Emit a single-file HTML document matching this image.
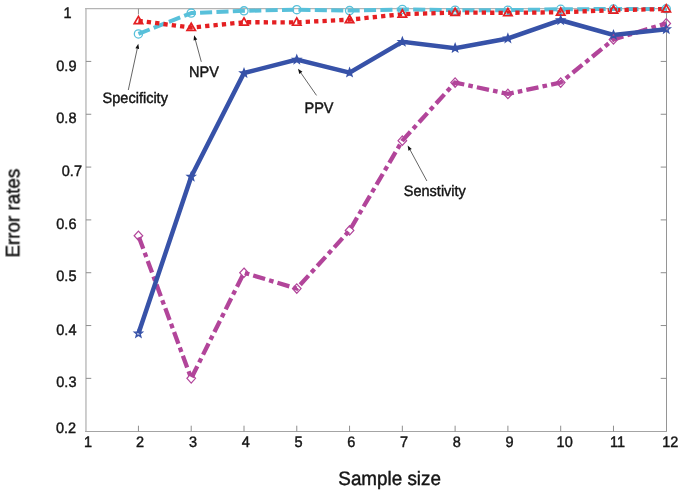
<!DOCTYPE html>
<html><head><meta charset="utf-8"><title>Error rates vs sample size</title>
<style>html,body{margin:0;padding:0;background:#fff}svg{display:block}text{font-family:"Liberation Sans",Arial,Helvetica,sans-serif;fill:#141414;stroke:#141414;stroke-width:0.42px}</style></head><body>
<svg width="685" height="492" viewBox="0 0 685 492">
<defs><filter id="tf" filterUnits="userSpaceOnUse" x="0" y="0" width="685" height="492"><feGaussianBlur stdDeviation="0.15"/></filter></defs>
<rect width="685" height="492" fill="#fff"/>
<g fill="none">
<path d="M85.95 8.10V432.00" stroke="#c6c6c6" stroke-width="1.7"/>
<path d="M85.15 8.70H667.00" stroke="#b4b4b4" stroke-width="1.3"/>
<path d="M666.50 8.70V432.00" stroke="#959595" stroke-width="1"/>
<path d="M85.15 431.50H667.00" stroke="#a4a4a4" stroke-width="1"/>
</g>
<g stroke="#8e8e8e" stroke-width="1" fill="none">
<path d="M138.43 431.50v-5.8"/>
<path d="M138.43 8.70v5.8"/>
<path d="M191.21 431.50v-5.8"/>
<path d="M244.00 431.50v-5.8"/>
<path d="M296.78 431.50v-5.8"/>
<path d="M349.56 431.50v-5.8"/>
<path d="M402.34 431.50v-5.8"/>
<path d="M455.12 431.50v-5.8"/>
<path d="M507.90 431.50v-5.8"/>
<path d="M560.69 431.50v-5.8"/>
<path d="M613.47 431.50v-5.8"/>
<path d="M85.95 378.37h5.3 M666.50 378.37h-5.8"/>
<path d="M85.95 325.55h5.3 M666.50 325.55h-5.8"/>
<path d="M85.95 272.72h5.3 M666.50 272.72h-5.8"/>
<path d="M85.95 219.90h5.3 M666.50 219.90h-5.8"/>
<path d="M85.95 167.08h5.3 M666.50 167.08h-5.8"/>
<path d="M85.95 114.25h5.3 M666.50 114.25h-5.8"/>
<path d="M85.95 61.42h5.3 M666.50 61.42h-5.8"/>
</g>
<polyline points="138.43,33.96 191.21,13.09 244.00,10.87 296.78,9.66 349.56,10.61 402.34,9.45 455.12,10.18 507.90,10.18 560.69,9.29 613.47,9.02 666.25,8.86" fill="none" stroke="#58c0da" stroke-width="4.0" stroke-dasharray="12.1 4.3" stroke-dashoffset="0" stroke-linejoin="round"/>
<polyline points="138.43,20.75 191.21,27.62 244.00,22.23 296.78,22.33 349.56,19.69 402.34,14.15 455.12,12.56 507.90,12.83 560.69,12.30 613.47,10.18 666.25,9.02" fill="none" stroke="#e41f22" stroke-width="4.3" stroke-dasharray="4.3 4.1" stroke-dashoffset="0" stroke-linejoin="round"/>
<polyline points="138.43,235.75 191.21,378.37 244.00,272.72 296.78,288.57 349.56,230.46 402.34,140.66 455.12,82.55 507.90,93.91 560.69,82.55 613.47,39.45 666.25,23.39" fill="none" stroke="#b2459a" stroke-width="4.3" stroke-dasharray="12.4 4.15 4.6 4.15" stroke-dashoffset="23.8" stroke-linejoin="miter"/>
<polyline points="138.43,333.47 191.21,176.69 244.00,73.05 296.78,59.68 349.56,72.62 402.34,41.83 455.12,48.11 507.90,38.45 560.69,20.22 613.47,35.01 666.25,29.20" fill="none" stroke="#3752a8" stroke-width="4.5" stroke-linejoin="miter"/>
<circle cx="138.43" cy="33.96" r="4.1" fill="none" stroke="#58c0da" stroke-width="1.3"/>
<circle cx="191.21" cy="13.09" r="4.1" fill="none" stroke="#58c0da" stroke-width="1.3"/>
<circle cx="244.00" cy="10.87" r="4.1" fill="none" stroke="#58c0da" stroke-width="1.3"/>
<circle cx="296.78" cy="9.66" r="4.1" fill="none" stroke="#58c0da" stroke-width="1.3"/>
<circle cx="349.56" cy="10.61" r="4.1" fill="none" stroke="#58c0da" stroke-width="1.3"/>
<circle cx="402.34" cy="9.45" r="4.1" fill="none" stroke="#58c0da" stroke-width="1.3"/>
<circle cx="455.12" cy="10.18" r="4.1" fill="none" stroke="#58c0da" stroke-width="1.3"/>
<circle cx="507.90" cy="10.18" r="4.1" fill="none" stroke="#58c0da" stroke-width="1.3"/>
<circle cx="560.69" cy="9.29" r="4.1" fill="none" stroke="#58c0da" stroke-width="1.3"/>
<circle cx="613.47" cy="9.02" r="4.1" fill="none" stroke="#58c0da" stroke-width="1.3"/>
<circle cx="666.25" cy="8.86" r="4.1" fill="none" stroke="#58c0da" stroke-width="1.3"/>
<path d="M138.43 16.35L142.63 23.65L134.23 23.65Z" fill="none" stroke="#e41f22" stroke-width="1.7"/>
<path d="M191.21 23.22L195.41 30.52L187.01 30.52Z" fill="none" stroke="#e41f22" stroke-width="1.7"/>
<path d="M244.00 17.83L248.20 25.13L239.80 25.13Z" fill="none" stroke="#e41f22" stroke-width="1.7"/>
<path d="M296.78 17.93L300.98 25.23L292.58 25.23Z" fill="none" stroke="#e41f22" stroke-width="1.7"/>
<path d="M349.56 15.29L353.76 22.59L345.36 22.59Z" fill="none" stroke="#e41f22" stroke-width="1.7"/>
<path d="M402.34 9.75L406.54 17.05L398.14 17.05Z" fill="none" stroke="#e41f22" stroke-width="1.7"/>
<path d="M455.12 8.16L459.32 15.46L450.92 15.46Z" fill="none" stroke="#e41f22" stroke-width="1.7"/>
<path d="M507.90 8.43L512.10 15.73L503.70 15.73Z" fill="none" stroke="#e41f22" stroke-width="1.7"/>
<path d="M560.69 7.90L564.89 15.20L556.49 15.20Z" fill="none" stroke="#e41f22" stroke-width="1.7"/>
<path d="M613.47 5.78L617.67 13.08L609.27 13.08Z" fill="none" stroke="#e41f22" stroke-width="1.7"/>
<path d="M666.25 4.62L670.45 11.92L662.05 11.92Z" fill="none" stroke="#e41f22" stroke-width="1.7"/>
<path d="M138.43 231.05L142.73 235.75L138.43 240.45L134.13 235.75Z" fill="none" stroke="#b2459a" stroke-width="1.2"/>
<path d="M191.21 373.67L195.51 378.37L191.21 383.07L186.91 378.37Z" fill="none" stroke="#b2459a" stroke-width="1.2"/>
<path d="M244.00 268.02L248.30 272.72L244.00 277.42L239.70 272.72Z" fill="none" stroke="#b2459a" stroke-width="1.2"/>
<path d="M296.78 283.87L301.08 288.57L296.78 293.27L292.48 288.57Z" fill="none" stroke="#b2459a" stroke-width="1.2"/>
<path d="M349.56 225.76L353.86 230.46L349.56 235.16L345.26 230.46Z" fill="none" stroke="#b2459a" stroke-width="1.2"/>
<path d="M402.34 135.96L406.64 140.66L402.34 145.36L398.04 140.66Z" fill="none" stroke="#b2459a" stroke-width="1.2"/>
<path d="M455.12 77.85L459.42 82.55L455.12 87.25L450.82 82.55Z" fill="none" stroke="#b2459a" stroke-width="1.2"/>
<path d="M507.90 89.21L512.20 93.91L507.90 98.61L503.60 93.91Z" fill="none" stroke="#b2459a" stroke-width="1.2"/>
<path d="M560.69 77.85L564.99 82.55L560.69 87.25L556.39 82.55Z" fill="none" stroke="#b2459a" stroke-width="1.2"/>
<path d="M613.47 34.75L617.77 39.45L613.47 44.15L609.17 39.45Z" fill="none" stroke="#b2459a" stroke-width="1.2"/>
<path d="M666.25 18.69L670.55 23.39L666.25 28.09L661.95 23.39Z" fill="none" stroke="#b2459a" stroke-width="1.2"/>
<path d="M138.43 329.47L139.43 332.10L142.24 332.24L140.05 334.00L140.78 336.71L138.43 335.17L136.08 336.71L136.82 334.00L134.63 332.24L137.43 332.10Z" fill="none" stroke="#3752a8" stroke-width="1.5"/>
<path d="M191.21 172.69L192.21 175.31L195.02 175.45L192.83 177.21L193.56 179.93L191.21 178.39L188.86 179.93L189.60 177.21L187.41 175.45L190.21 175.31Z" fill="none" stroke="#3752a8" stroke-width="1.5"/>
<path d="M244.00 69.05L244.99 71.67L247.80 71.81L245.61 73.57L246.35 76.28L244.00 74.75L241.64 76.28L242.38 73.57L240.19 71.81L243.00 71.67Z" fill="none" stroke="#3752a8" stroke-width="1.5"/>
<path d="M296.78 55.68L297.78 58.31L300.58 58.45L298.39 60.21L299.13 62.92L296.78 61.38L294.43 62.92L295.16 60.21L292.97 58.45L295.78 58.31Z" fill="none" stroke="#3752a8" stroke-width="1.5"/>
<path d="M349.56 68.62L350.56 71.25L353.36 71.39L351.18 73.15L351.91 75.86L349.56 74.32L347.21 75.86L347.94 73.15L345.75 71.39L348.56 71.25Z" fill="none" stroke="#3752a8" stroke-width="1.5"/>
<path d="M402.34 37.83L403.34 40.45L406.15 40.59L403.96 42.35L404.69 45.06L402.34 43.53L399.99 45.06L400.72 42.35L398.54 40.59L401.34 40.45Z" fill="none" stroke="#3752a8" stroke-width="1.5"/>
<path d="M455.12 44.11L456.12 46.74L458.93 46.88L456.74 48.64L457.47 51.35L455.12 49.81L452.77 51.35L453.51 48.64L451.32 46.88L454.12 46.74Z" fill="none" stroke="#3752a8" stroke-width="1.5"/>
<path d="M507.90 34.45L508.90 37.07L511.71 37.21L509.52 38.97L510.26 41.68L507.90 40.15L505.55 41.68L506.29 38.97L504.10 37.21L506.91 37.07Z" fill="none" stroke="#3752a8" stroke-width="1.5"/>
<path d="M560.69 16.22L561.69 18.85L564.49 18.99L562.30 20.75L563.04 23.46L560.69 21.92L558.34 23.46L559.07 20.75L556.88 18.99L559.69 18.85Z" fill="none" stroke="#3752a8" stroke-width="1.5"/>
<path d="M613.47 31.01L614.47 33.64L617.27 33.78L615.08 35.54L615.82 38.25L613.47 36.71L611.12 38.25L611.85 35.54L609.66 33.78L612.47 33.64Z" fill="none" stroke="#3752a8" stroke-width="1.5"/>
<path d="M666.25 25.20L667.25 27.83L670.05 27.97L667.87 29.73L668.60 32.44L666.25 30.90L663.90 32.44L664.63 29.73L662.45 27.97L665.25 27.83Z" fill="none" stroke="#3752a8" stroke-width="1.5"/>
<g text-rendering="geometricPrecision" filter="url(#tf)">
<text transform="translate(63.50 17.60) scale(0.955 1)" font-size="15.20" text-anchor="start">1</text>
<text transform="translate(56.30 70.52) scale(0.955 1)" font-size="15.20" text-anchor="start">0.9</text>
<text transform="translate(56.30 123.25) scale(0.955 1)" font-size="15.20" text-anchor="start">0.8</text>
<text transform="translate(61.80 176.08) scale(0.955 1)" font-size="15.20" text-anchor="start">0.7</text>
<text transform="translate(56.30 229.10) scale(0.955 1)" font-size="15.20" text-anchor="start">0.6</text>
<text transform="translate(56.30 281.42) scale(0.955 1)" font-size="15.20" text-anchor="start">0.5</text>
<text transform="translate(56.30 334.75) scale(0.955 1)" font-size="15.20" text-anchor="start">0.4</text>
<text transform="translate(56.30 387.17) scale(0.955 1)" font-size="15.20" text-anchor="start">0.3</text>
<text transform="translate(56.00 432.60) scale(0.955 1)" font-size="15.20" text-anchor="start">0.2</text>
<text transform="translate(88.15 447.00) scale(0.955 1)" font-size="15.20" text-anchor="middle">1</text>
<text transform="translate(140.13 447.00) scale(0.955 1)" font-size="15.20" text-anchor="middle">2</text>
<text transform="translate(192.91 447.00) scale(0.955 1)" font-size="15.20" text-anchor="middle">3</text>
<text transform="translate(245.70 447.00) scale(0.955 1)" font-size="15.20" text-anchor="middle">4</text>
<text transform="translate(298.48 447.00) scale(0.955 1)" font-size="15.20" text-anchor="middle">5</text>
<text transform="translate(351.26 447.00) scale(0.955 1)" font-size="15.20" text-anchor="middle">6</text>
<text transform="translate(404.04 447.00) scale(0.955 1)" font-size="15.20" text-anchor="middle">7</text>
<text transform="translate(456.82 447.00) scale(0.955 1)" font-size="15.20" text-anchor="middle">8</text>
<text transform="translate(509.60 447.00) scale(0.955 1)" font-size="15.20" text-anchor="middle">9</text>
<text transform="translate(564.69 447.00) scale(0.955 1)" font-size="15.20" text-anchor="middle">10</text>
<text transform="translate(617.47 447.00) scale(0.955 1)" font-size="15.20" text-anchor="middle">11</text>
<text transform="translate(670.25 447.00) scale(0.955 1)" font-size="15.20" text-anchor="middle">12</text>
<text transform="translate(389.60 485.10) scale(0.965 1)" font-size="19.50" text-anchor="middle">Sample size</text>
<text transform="translate(19.40 213.20) rotate(-90) scale(0.965 1)" font-size="19.50" text-anchor="middle">Error rates</text>
<text transform="translate(102.60 103.30) scale(0.955 1)" font-size="15.20" text-anchor="start">Specificity</text>
<text transform="translate(189.00 76.60) scale(0.955 1)" font-size="15.20" text-anchor="start">NPV</text>
<text transform="translate(304.50 113.00) scale(0.955 1)" font-size="15.20" text-anchor="start">PPV</text>
<text transform="translate(403.80 195.80) scale(0.955 1)" font-size="15.20" text-anchor="start">Senstivity</text>
</g>
<path d="M128.30 90.00L137.24 48.69" stroke="#222" stroke-width="0.7" fill="none"/>
<path d="M138.30 43.80L139.10 49.09L135.39 48.28Z" fill="#111"/>
<path d="M201.30 61.80L195.41 40.03" stroke="#222" stroke-width="0.7" fill="none"/>
<path d="M194.10 35.20L197.24 39.53L193.57 40.52Z" fill="#111"/>
<path d="M316.50 95.40L300.85 72.90" stroke="#222" stroke-width="0.7" fill="none"/>
<path d="M298.00 68.80L302.41 71.82L299.30 73.99Z" fill="#111"/>
<path d="M426.90 181.00L410.08 149.90" stroke="#222" stroke-width="0.7" fill="none"/>
<path d="M407.70 145.50L411.75 148.99L408.41 150.80Z" fill="#111"/>
</svg></body></html>
